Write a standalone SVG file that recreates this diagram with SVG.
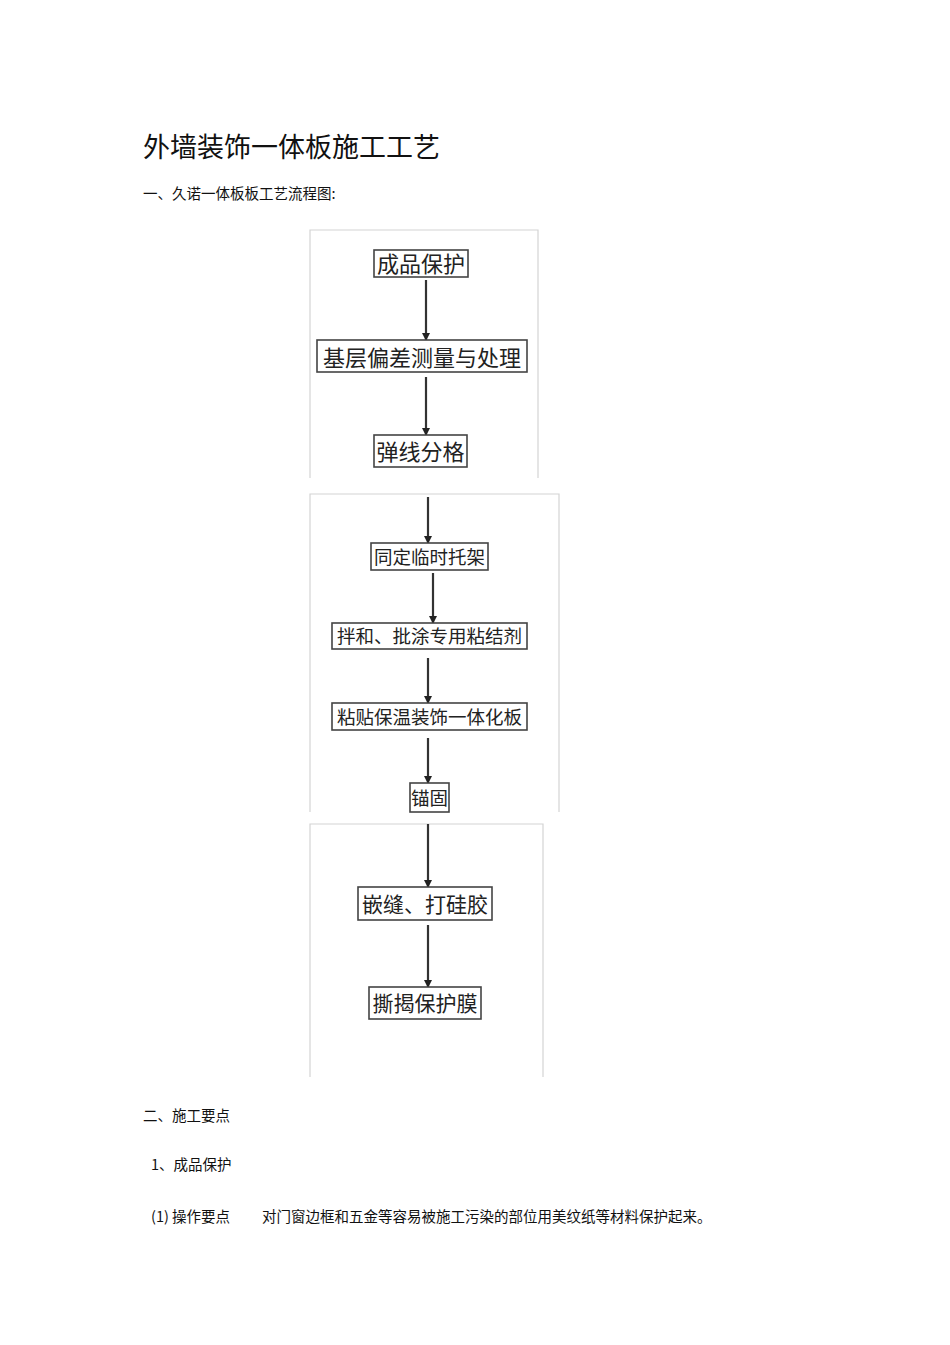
<svg xmlns="http://www.w3.org/2000/svg" width="950" height="1345" viewBox="0 0 950 1345">
<style>
.t{font-family:"Noto Sans CJK SC","Liberation Sans",sans-serif;fill:#111}
.b{fill:#fff;stroke:#444;stroke-width:1.6}
.bt{font-family:"Noto Sans CJK SC",sans-serif;fill:#222;text-anchor:middle}
.fr{stroke:#d4d4d4;stroke-width:1.2;fill:none}
.a{stroke:#333;stroke-width:2.2;fill:none}
</style>
<defs>
<marker id="ah" markerUnits="userSpaceOnUse" markerWidth="8" markerHeight="8" refX="7" refY="4" orient="auto">
<path d="M0,0 L8,4 L0,8 z" fill="#222"/>
</marker>
</defs>
<rect width="950" height="1345" fill="#fff"/>
<text class="t" x="143" y="157" font-size="27">外墙装饰一体板施工工艺</text>
<text class="t" x="143" y="199" font-size="14.5">一、久诺一体板板工艺流程图:</text>
<g id="frames">
<path class="fr" d="M310,478 V230 H538 V478"/>
<path class="fr" d="M310,812 V494 H559 V812"/>
<path class="fr" d="M310,1077 V824 H543 V1077"/>
</g>
<g id="connectors">
<line class="a" x1="426" y1="280" x2="426" y2="340" marker-end="url(#ah)"/>
<line class="a" x1="426" y1="377" x2="426" y2="435" marker-end="url(#ah)"/>
<line class="a" x1="428" y1="497" x2="428" y2="543" marker-end="url(#ah)"/>
<line class="a" x1="433" y1="573" x2="433" y2="623" marker-end="url(#ah)"/>
<line class="a" x1="428" y1="658" x2="428" y2="703" marker-end="url(#ah)"/>
<line class="a" x1="428" y1="738" x2="428" y2="783" marker-end="url(#ah)"/>
<line class="a" x1="428" y1="824" x2="428" y2="887" marker-end="url(#ah)"/>
<line class="a" x1="428" y1="925" x2="428" y2="987" marker-end="url(#ah)"/>
</g>
<g id="n1"><rect class="b" x="374" y="250" width="94" height="27"/><text class="bt" x="421" y="272" font-size="22">成品保护</text></g>
<g id="n2"><rect class="b" x="317" y="340" width="210" height="32"/><text class="bt" x="422" y="366" font-size="22">基层偏差测量与处理</text></g>
<g id="n3"><rect class="b" x="374" y="435" width="93" height="32"/><text class="bt" x="420.5" y="460" font-size="22">弹线分格</text></g>
<g id="n4"><rect class="b" x="371" y="543" width="117" height="27"/><text class="bt" x="429.5" y="564" font-size="18.5">同定临时托架</text></g>
<g id="n5"><rect class="b" x="332" y="623" width="195" height="26"/><text class="bt" x="429.5" y="643" font-size="18.5">拌和、批涂专用粘结剂</text></g>
<g id="n6"><rect class="b" x="332" y="703" width="195" height="27"/><text class="bt" x="429.5" y="724" font-size="18.5">粘贴保温装饰一体化板</text></g>
<g id="n7"><rect class="b" x="410" y="783" width="39" height="29"/><text class="bt" x="429.5" y="805" font-size="18.5">锚固</text></g>
<g id="n8"><rect class="b" x="358" y="887" width="134" height="33"/><text class="bt" x="425" y="912" font-size="21">嵌缝、打硅胶</text></g>
<g id="n9"><rect class="b" x="369" y="987" width="112" height="32"/><text class="bt" x="425" y="1011" font-size="21">撕揭保护膜</text></g>
<text class="t" x="143" y="1121" font-size="14.5">二、施工要点</text>
<text class="t" x="151" y="1170" font-size="14.5">1、成品保护</text>
<text class="t" x="151" y="1222" font-size="14.5">(1) 操作要点</text>
<text class="t" x="262" y="1222" font-size="14.5">对门窗边框和五金等容易被施工污染的部位用美纹纸等材料保护起来。</text>
</svg>
